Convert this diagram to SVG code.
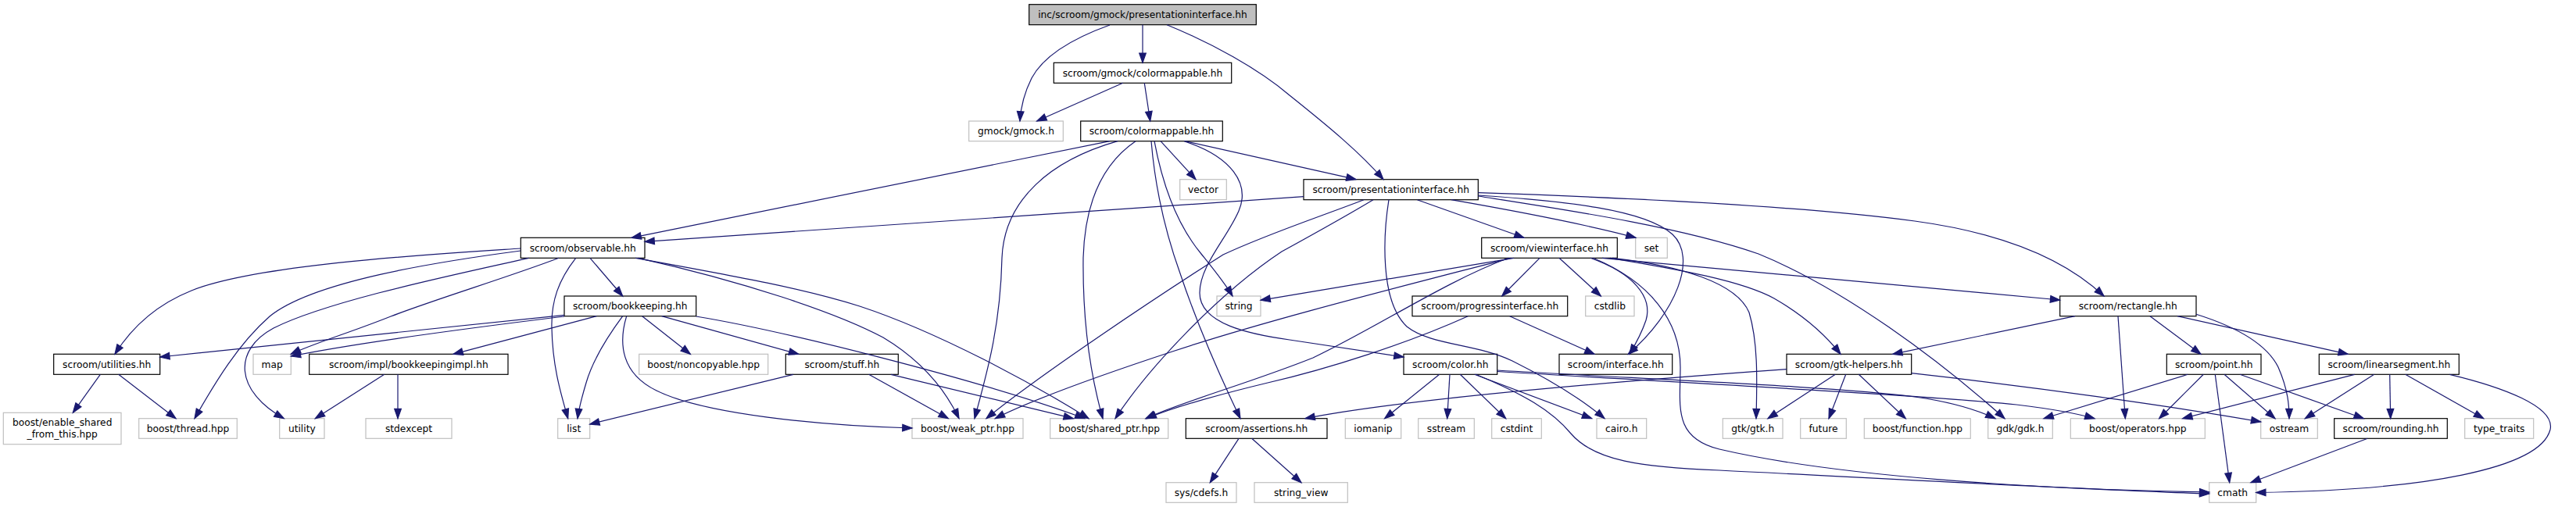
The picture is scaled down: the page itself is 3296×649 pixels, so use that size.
<svg xmlns="http://www.w3.org/2000/svg" width="3296" height="649" viewBox="0 0 3296 649">
<defs>
<style>
.e{fill:none;stroke:#191970;stroke-width:1.2;marker-end:url(#a)}
.d rect{fill:#fff;stroke:#000;stroke-width:1.2}
.x rect{fill:#fff;stroke:#bfbfbf;stroke-width:1.2}
.t rect{fill:#bfbfbf;stroke:#000;stroke-width:1.2}
text{font-family:"DejaVu Sans",sans-serif;font-size:12.25px;text-anchor:middle;fill:#000}
</style>
<marker id="a" markerUnits="userSpaceOnUse" markerWidth="16" markerHeight="12" refX="0" refY="0" orient="auto" overflow="visible">
<path d="M-12.25,-4.3 L0,0 L-12.25,4.3 Z" fill="#191970" stroke="#191970" stroke-width="1.2"/>
</marker>
</defs>
<rect width="3296" height="649" fill="#fff"/>
<g id="nodes">
<g id="n0" class="t"><rect x="1316.7" y="5.7" width="290.6" height="26"/><text x="1462" y="23">inc/scroom/gmock/presentationinterface.hh</text></g>
<g id="n1" class="d"><rect x="1348.3" y="80.3" width="227.4" height="26"/><text x="1462" y="97.6">scroom/gmock/colormappable.hh</text></g>
<g id="n2" class="x"><rect x="1239.7" y="155" width="120.6" height="25.7"/><text x="1300" y="172.2">gmock/gmock.h</text></g>
<g id="n3" class="d"><rect x="1382.7" y="155" width="181.6" height="25.7"/><text x="1473.5" y="172.2">scroom/colormappable.hh</text></g>
<g id="n4" class="d"><rect x="1668" y="229.7" width="223.3" height="26"/><text x="1779.7" y="247">scroom/presentationinterface.hh</text></g>
<g id="n5" class="x"><rect x="1509.7" y="229.7" width="59.6" height="26"/><text x="1539.5" y="247">vector</text></g>
<g id="n6" class="d"><rect x="666.3" y="304.3" width="158.7" height="26"/><text x="745.7" y="321.6">scroom/observable.hh</text></g>
<g id="n7" class="d"><rect x="1895.7" y="304.3" width="173.6" height="26"/><text x="1982.5" y="321.6">scroom/viewinterface.hh</text></g>
<g id="n8" class="x"><rect x="2092.7" y="304.3" width="40.6" height="26"/><text x="2113" y="321.6">set</text></g>
<g id="n9" class="d"><rect x="722" y="379" width="168.7" height="25.7"/><text x="806.3" y="396.2">scroom/bookkeeping.hh</text></g>
<g id="n10" class="x"><rect x="1557" y="379" width="56" height="25.7"/><text x="1585" y="396.2">string</text></g>
<g id="n11" class="d"><rect x="1807" y="379" width="198.7" height="25.7"/><text x="1906.3" y="396.2">scroom/progressinterface.hh</text></g>
<g id="n12" class="x"><rect x="2028.7" y="379" width="62.3" height="25.7"/><text x="2059.8" y="396.2">cstdlib</text></g>
<g id="n13" class="d"><rect x="2635.7" y="379" width="174.3" height="25.7"/><text x="2722.8" y="396.2">scroom/rectangle.hh</text></g>
<g id="n14" class="d"><rect x="68.7" y="453.3" width="136" height="26"/><text x="136.7" y="470.6">scroom/utilities.hh</text></g>
<g id="n15" class="x"><rect x="324" y="453.3" width="48.3" height="26"/><text x="348.2" y="470.6">map</text></g>
<g id="n16" class="d"><rect x="395.7" y="453.3" width="254.3" height="26"/><text x="522.8" y="470.6">scroom/impl/bookkeepingimpl.hh</text></g>
<g id="n17" class="x"><rect x="817.7" y="453.3" width="165" height="26"/><text x="900.2" y="470.6">boost/noncopyable.hpp</text></g>
<g id="n18" class="d"><rect x="1005.3" y="453.3" width="144" height="26"/><text x="1077.3" y="470.6">scroom/stuff.hh</text></g>
<g id="n19" class="d"><rect x="1796" y="453.3" width="119.7" height="26"/><text x="1855.8" y="470.6">scroom/color.hh</text></g>
<g id="n20" class="d"><rect x="1995" y="453.3" width="144.7" height="26"/><text x="2067.3" y="470.6">scroom/interface.hh</text></g>
<g id="n21" class="d"><rect x="2286" y="453.3" width="159.7" height="26"/><text x="2365.8" y="470.6">scroom/gtk-helpers.hh</text></g>
<g id="n22" class="d"><rect x="2772.3" y="453.3" width="120.7" height="26"/><text x="2832.7" y="470.6">scroom/point.hh</text></g>
<g id="n23" class="d"><rect x="2967.3" y="453.3" width="179" height="26"/><text x="3056.8" y="470.6">scroom/linearsegment.hh</text></g>
<g id="n24" class="x"><rect x="4.3" y="528.3" width="150.7" height="40.4"/><text x="79.7" y="545.4">boost/enable_shared</text><text x="79.7" y="560.1">_from_this.hpp</text></g>
<g id="n25" class="x"><rect x="177.7" y="535.7" width="125.6" height="25.6"/><text x="240.5" y="552.8">boost/thread.hpp</text></g>
<g id="n26" class="x"><rect x="357.7" y="535.7" width="57.3" height="25.6"/><text x="386.3" y="552.8">utility</text></g>
<g id="n27" class="x"><rect x="468" y="535.7" width="110" height="25.6"/><text x="523" y="552.8">stdexcept</text></g>
<g id="n28" class="x"><rect x="713.7" y="535.7" width="41" height="25.6"/><text x="734.2" y="552.8">list</text></g>
<g id="n29" class="x"><rect x="1167" y="535.7" width="142" height="25.6"/><text x="1238" y="552.8">boost/weak_ptr.hpp</text></g>
<g id="n30" class="x"><rect x="1343.7" y="535.7" width="151" height="25.6"/><text x="1419.2" y="552.8">boost/shared_ptr.hpp</text></g>
<g id="n31" class="d"><rect x="1517.3" y="535.7" width="180.7" height="25.6"/><text x="1607.7" y="552.8">scroom/assertions.hh</text></g>
<g id="n32" class="x"><rect x="1721.3" y="535.7" width="71.4" height="25.6"/><text x="1757" y="552.8">iomanip</text></g>
<g id="n33" class="x"><rect x="1814.7" y="535.7" width="71.6" height="25.6"/><text x="1850.5" y="552.8">sstream</text></g>
<g id="n34" class="x"><rect x="1908.7" y="535.7" width="63.6" height="25.6"/><text x="1940.5" y="552.8">cstdint</text></g>
<g id="n35" class="x"><rect x="2043" y="535.7" width="63.7" height="25.6"/><text x="2074.8" y="552.8">cairo.h</text></g>
<g id="n36" class="x"><rect x="2204.3" y="535.7" width="76.7" height="25.6"/><text x="2242.7" y="552.8">gtk/gtk.h</text></g>
<g id="n37" class="x"><rect x="2303.7" y="535.7" width="58.6" height="25.6"/><text x="2333" y="552.8">future</text></g>
<g id="n38" class="x"><rect x="2385.3" y="535.7" width="136" height="25.6"/><text x="2453.3" y="552.8">boost/function.hpp</text></g>
<g id="n39" class="x"><rect x="2543.7" y="535.7" width="82.6" height="25.6"/><text x="2585" y="552.8">gdk/gdk.h</text></g>
<g id="n40" class="x"><rect x="2649.3" y="535.7" width="172" height="25.6"/><text x="2735.3" y="552.8">boost/operators.hpp</text></g>
<g id="n41" class="x"><rect x="2892.7" y="535.7" width="72.6" height="25.6"/><text x="2929" y="552.8">ostream</text></g>
<g id="n42" class="d"><rect x="2986.7" y="535.7" width="144.6" height="25.6"/><text x="3059" y="552.8">scroom/rounding.hh</text></g>
<g id="n43" class="x"><rect x="3153.7" y="535.7" width="88" height="25.6"/><text x="3197.7" y="552.8">type_traits</text></g>
<g id="n44" class="x"><rect x="1492" y="617.7" width="90" height="25.6"/><text x="1537" y="634.8">sys/cdefs.h</text></g>
<g id="n45" class="x"><rect x="1605" y="617.7" width="119.3" height="25.6"/><text x="1664.7" y="634.8">string_view</text></g>
<g id="n46" class="x"><rect x="2826.7" y="617.7" width="60" height="25.6"/><text x="2856.7" y="634.8">cmath</text></g>
</g>
<g id="edges">
<path class="e" d="M1420,32 C1370,50 1335,72 1320,100 C1310,120 1306,138 1305,155"/>
<path class="e" d="M1462,31.7 L1462,80.3"/>
<path class="e" d="M1493,31.7 C1550,55 1610,88 1650,122 C1700,162 1740,195 1770,229.7"/>
<path class="e" d="M1436.7,106.3 L1326.7,155"/>
<path class="e" d="M1464.3,106.3 L1471.7,155"/>
<path class="e" d="M1420,180.7 L808,304.3"/>
<path class="e" d="M1430,180.7 C1345,205 1285,255 1282,330 C1280,420 1262,480 1247,535.7"/>
<path class="e" d="M1453,180.7 C1410,210 1388,260 1386,330 C1385,420 1398,490 1411,535.7"/>
<path class="e" d="M1473,180.7 C1478,240 1492,300 1510,350 C1535,425 1565,490 1587,535.7"/>
<path class="e" d="M1477,180.7 C1488,240 1508,290 1537,325 C1553,345 1567,362 1577,379"/>
<path class="e" d="M1485,180.7 L1530,229.7"/>
<path class="e" d="M1515,180.7 C1575,200 1600,235 1585,270 C1570,305 1535,340 1535,375 C1535,415 1600,428 1650,435 C1710,444 1760,452 1796,457"/>
<path class="e" d="M1516.7,180.7 L1735,229.7"/>
<path class="e" d="M1668,251.7 L825,309.3"/>
<path class="e" d="M1745,255.7 C1690,277 1620,300 1565,326 C1480,380 1330,480 1262,535.7"/>
<path class="e" d="M1757,255.7 C1720,278 1680,300 1640,322 C1560,375 1470,470 1427,535.7"/>
<path class="e" d="M1777,255.7 C1770,300 1765,385 1800,418 C1830,442 1890,440 1935,462 C1985,487 2025,512 2053,535.7"/>
<path class="e" d="M1813.3,255.7 L1950,304.3"/>
<path class="e" d="M1856.7,255.7 C1950,272 2040,290 2093,304.3"/>
<path class="e" d="M1891.3,246.7 C2050,252 2300,263 2450,283 C2560,298 2640,330 2692,379"/>
<path class="e" d="M1891.3,250 C2000,257 2105,268 2140,300 C2172,330 2145,400 2083.3,453.3"/>
<path class="e" d="M1891.3,251 C2000,268 2150,290 2250,325 C2360,370 2480,460 2565,535.7"/>
<path class="e" d="M666.3,318 C560,325 330,338 245,372 C200,390 168,420 147,453.3"/>
<path class="e" d="M666.3,321 C560,335 400,360 345,405 C305,440 275,490 249,535.7"/>
<path class="e" d="M676.7,330.3 C580,352 420,385 350,420 C298,448 300,500 363.3,535.7"/>
<path class="e" d="M715,330.3 C650,355 560,382 500,405 C450,425 400,440 372.3,453.3"/>
<path class="e" d="M736.7,330.3 C715,358 705,385 706,420 C707,470 718,505 726.7,535.7"/>
<path class="e" d="M755,330.3 L796.7,379"/>
<path class="e" d="M813.3,330.3 C950,355 1030,370 1100,392 C1200,425 1320,490 1393,535.7"/>
<path class="e" d="M816.7,330.3 C950,360 1070,400 1130,432 C1180,462 1210,500 1227,535.7"/>
<path class="e" d="M722,403.3 L204.7,457"/>
<path class="e" d="M722,405 C600,420 450,440 372.3,456"/>
<path class="e" d="M763.3,404.7 L580,453.3"/>
<path class="e" d="M796.7,404.7 C778,430 758,462 750,490 C744,510 741,520 739,535.7"/>
<path class="e" d="M801.7,404.7 C791,440 795,478 840,500 C900,530 1050,545 1167,548"/>
<path class="e" d="M821.7,404.7 L883.3,453.3"/>
<path class="e" d="M846.7,404.7 L1021.7,453.3"/>
<path class="e" d="M890.7,405 C1000,423 1250,485 1388,535.7"/>
<path class="e" d="M1015,479.3 L754.7,543"/>
<path class="e" d="M1111.7,479.3 L1213.3,535.7"/>
<path class="e" d="M1140,479.3 L1373.3,535.7"/>
<path class="e" d="M491.7,479.3 L403.3,535.7"/>
<path class="e" d="M509,479.3 L509,535.7"/>
<path class="e" d="M128.3,479.3 L93.3,528.3"/>
<path class="e" d="M151.7,479.3 L225,535.7"/>
<path class="e" d="M1936.7,330.3 L1613,384.3"/>
<path class="e" d="M1933.3,330.3 C1800,365 1620,410 1500,450 C1400,483 1320,512 1273.3,535.7"/>
<path class="e" d="M1930,330.3 C1850,360 1760,420 1680,458 C1600,490 1510,515 1466,535.7"/>
<path class="e" d="M1878.3,404.7 C1800,440 1700,472 1622,490 C1560,505 1500,522 1467,535.7"/>
<path class="e" d="M1931.7,404.7 L2040,453.3"/>
<path class="e" d="M1970,330.3 L1921.7,379"/>
<path class="e" d="M1995,330.3 L2048.3,379"/>
<path class="e" d="M2035,330.3 C2090,350 2115,380 2106,410 C2101,425 2093,440 2085,453.3"/>
<path class="e" d="M2038.3,330.3 C2110,360 2150,410 2150,470 C2150,520 2140,560 2200,575 C2350,610 2600,626 2826.7,630"/>
<path class="e" d="M2050,330.3 L2635.7,384"/>
<path class="e" d="M2060,330.3 C2150,345 2230,360 2270,382 C2310,405 2335,428 2355,453.3"/>
<path class="e" d="M2063.3,330.3 C2150,340 2222,362 2238,400 C2250,440 2248,490 2247,535.7"/>
<path class="e" d="M1841.7,479.3 L1771.7,535.7"/>
<path class="e" d="M1855,479.3 L1851.7,535.7"/>
<path class="e" d="M1868.3,479.3 L1926.7,535.7"/>
<path class="e" d="M1886.7,479.3 L2036.7,535.7"/>
<path class="e" d="M1888.3,479.3 C1950,505 1985,525 2010,555 C2040,590 2100,598 2200,602 C2400,612 2650,626 2826.7,632"/>
<path class="e" d="M1915.7,474 C2100,485 2350,495 2450,508 C2500,515 2530,525 2553,535.7"/>
<path class="e" d="M1915.7,475.5 C2150,490 2450,505 2580,518 C2630,524 2660,530 2680,535.7"/>
<path class="e" d="M2286,472.7 C2100,486 1800,510 1670,535.7"/>
<path class="e" d="M2348.3,479.3 L2262,535.7"/>
<path class="e" d="M2361.7,479.3 L2340,535.7"/>
<path class="e" d="M2378.3,479.3 L2438.3,535.7"/>
<path class="e" d="M2445.7,477.7 C2600,495 2780,520 2892.7,540"/>
<path class="e" d="M2655,404.7 L2421.7,453.3"/>
<path class="e" d="M2710,404.7 L2719.3,535.7"/>
<path class="e" d="M2751,404.7 L2816,453.3"/>
<path class="e" d="M2786,404.7 L3004.3,453.3"/>
<path class="e" d="M2810,402.3 C2860,418 2900,440 2915,470 C2928,500 2929,520 2929,535.7"/>
<path class="e" d="M2799.3,479.3 L2615,535.7"/>
<path class="e" d="M2819.3,479.3 L2762.7,535.7"/>
<path class="e" d="M2834.3,479.3 L2852.7,617.7"/>
<path class="e" d="M2846,479.3 L2911,535.7"/>
<path class="e" d="M2866,479.3 L3024.3,535.7"/>
<path class="e" d="M3012.7,479.3 L2792.7,535.7"/>
<path class="e" d="M3037.7,479.3 L2949.3,535.7"/>
<path class="e" d="M3057.7,479.3 L3058.7,535.7"/>
<path class="e" d="M3077.7,479.3 L3177.7,535.7"/>
<path class="e" d="M3134.3,479.3 C3200,495 3270,520 3263,550 C3250,600 3100,628 2886.7,630.5"/>
<path class="e" d="M3029.3,561.3 L2880,617.7"/>
<path class="e" d="M1585,561.3 L1548.3,617.7"/>
<path class="e" d="M1601.7,561.3 L1665,617.7"/>
</g>
</svg>
